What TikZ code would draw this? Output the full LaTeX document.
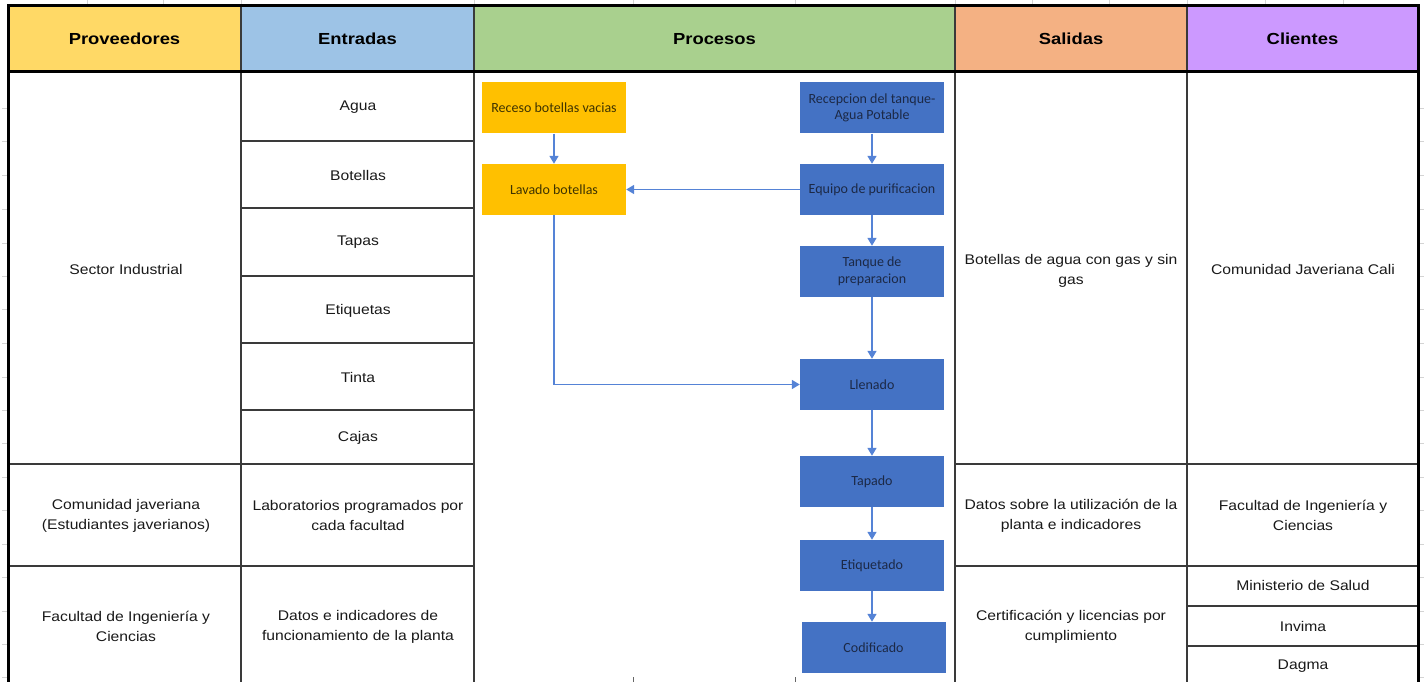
\documentclass[tikz,border=0pt]{standalone}
\usepackage{fontspec}
\usetikzlibrary{arrows.meta}
\newfontfamily\cellfont{Liberation Sans}[FakeStretch=1.12]
\newfontfamily\headfont{Liberation Sans Bold}[FakeStretch=1.15]
\newfontfamily\boxfont{Carlito}

\definecolor{provC}{HTML}{FFD966}
\definecolor{entC}{HTML}{9DC3E6}
\definecolor{procC}{HTML}{A9D08E}
\definecolor{salC}{HTML}{F4B183}
\definecolor{cliC}{HTML}{CC99FF}
\definecolor{goldbox}{HTML}{FFC000}
\definecolor{bluebox}{HTML}{4472C4}
\definecolor{goldtxt}{HTML}{3E3300}
\definecolor{bluetxt}{HTML}{1C2946}
\definecolor{flowline}{HTML}{5583D6}
\definecolor{rulec}{HTML}{3A3A3A}
\definecolor{gridc}{HTML}{D4D4D4}

\tikzset{
  head/.style={minimum height=66pt, inner sep=0pt, text=black,
    font=\headfont\fontsize{16}{18}\selectfont},
  cell/.style={align=center, inner sep=0pt, text=black!90, yshift=-1.5pt,
    font=\cellfont\fontsize{14}{20}\selectfont},
  procbox/.style={minimum width=144pt, minimum height=51pt, inner sep=2pt,
    align=center, font=\boxfont\fontsize{14}{16.5}\selectfont},
  goldstep/.style={procbox, fill=goldbox, text=goldtxt},
  bluestep/.style={procbox, fill=bluebox, text=bluetxt},
  flow/.style={draw=flowline, line width=1.6pt,
    -{Triangle[width=9pt,length=8pt]}},
  thin rule/.style={draw=rulec, line width=1.4pt},
  thick rule/.style={draw=black, line width=3pt},
  gridtick/.style={draw=gridc, line width=0.8pt}
}

\begin{document}
\begin{tikzpicture}[x=1pt, y=-1pt]
\useasboundingbox (0,0) rectangle (1424,682);

% faint worksheet gridlines around the table
\foreach \gx in {87,163,241,474,633,795,955,1032,1109,1187,1265,1343}
  \draw[gridtick] (\gx,0) -- (\gx,5);
\foreach \gy in {108,141,175,209,243,276,309,343,377,410,443,477,510,544,577,611,644,677}{
  \draw[gridtick] (2,\gy) -- (7,\gy);
  \draw[gridtick] (1419,\gy) -- (1424,\gy);
}
\foreach \gx in {633,795}
  \draw[draw=black!60, line width=1pt] (\gx,677) -- (\gx,682);

% header row
\node[head, fill=provC, minimum width=233pt] (hProv) at (124.5,39) {Proveedores};
\node[head, fill=entC,  minimum width=233pt] (hEnt)  at (357.5,39) {Entradas};
\node[head, fill=procC, minimum width=481pt] (hProc) at (714.5,39) {Procesos};
\node[head, fill=salC,  minimum width=232pt] (hSal)  at (1071,39)  {Salidas};
\node[head, fill=cliC,  minimum width=231pt] (hCli)  at (1302.5,39) {Clientes};

% inner cell borders
\draw[thin rule] (8,464) -- (241,464) (8,566) -- (241,566);
\foreach \ry in {141,208,276,343,410,464,566}
  \draw[thin rule] (241,\ry) -- (474,\ry);
\draw[thin rule] (955,464) -- (1187,464) (955,566) -- (1187,566);
\foreach \ry in {464,566,606,646}
  \draw[thin rule] (1187,\ry) -- (1418,\ry);
\foreach \cx in {241,474,955,1187}
  \draw[thin rule] (\cx,6) -- (\cx,682);

% outer frame and header separator
\draw[thick rule] (8,682) -- (8,6) -- (1418,6) -- (1418,682);
\draw[thick rule] (8,72) -- (1418,72);

% Proveedores
\node[cell] (p1) at (126,268) {Sector Industrial};
\node[cell] (p2) at (126,514) {Comunidad javeriana\\(Estudiantes javerianos)};
\node[cell] (p3) at (126,625) {Facultad de Ingeniería y\\Ciencias};

% Entradas
\node[cell] (e1) at (358,106) {Agua};
\node[cell] (e2) at (358,174) {Botellas};
\node[cell] (e3) at (358,241) {Tapas};
\node[cell] (e4) at (358,309) {Etiquetas};
\node[cell] (e5) at (358,376) {Tinta};
\node[cell] (e6) at (358,436) {Cajas};
\node[cell] (e7) at (358,514) {Laboratorios programados por\\cada facultad};
\node[cell] (e8) at (358,625) {Datos e indicadores de\\funcionamiento de la planta};

% Salidas
\node[cell] (s1) at (1071,269) {Botellas de agua con gas y sin\\gas};
\node[cell] (s2) at (1071,514) {Datos sobre la utilización de la\\planta e indicadores};
\node[cell] (s3) at (1071,625) {Certificación y licencias por\\cumplimiento};

% Clientes
\node[cell] (c1) at (1303,268) {Comunidad Javeriana Cali};
\node[cell] (c2) at (1303,514) {Facultad de Ingeniería y\\Ciencias};
\node[cell] (c3) at (1303,584) {Ministerio de Salud};
\node[cell] (c4) at (1303,625) {Invima};
\node[cell] (c5) at (1303,665) {Dagma};

% process flow
\node[goldstep] (receso) at (554,108)   {Receso botellas vacias};
\node[goldstep] (lavado) at (554,189.5) {Lavado botellas};
\node[bluestep] (recep)  at (872,108)   {Recepcion del tanque-\\Agua Potable};
\node[bluestep] (equipo) at (872,189.5) {Equipo de purificacion};
\node[bluestep] (tanque) at (872,271.5) {Tanque de\\preparacion};
\node[bluestep] (llenado) at (872,384.5) {Llenado};
\node[bluestep] (tapado) at (872,481.5) {Tapado};
\node[bluestep] (etiq)   at (872,565.5) {Etiquetado};
\node[bluestep] (codif)  at (873.5,647.5) {Codificado};

\draw[flow] (receso) -- (lavado);
\draw[flow] (equipo) -- (lavado);
\draw[flow] (lavado.south) |- (llenado.west);
\draw[flow] (recep) -- (equipo);
\draw[flow] (equipo) -- (tanque);
\draw[flow] (tanque) -- (llenado);
\draw[flow] (llenado) -- (tapado);
\draw[flow] (tapado) -- (etiq);
\draw[flow] (etiq.south) -- (etiq.south |- codif.north);
\end{tikzpicture}
\end{document}
